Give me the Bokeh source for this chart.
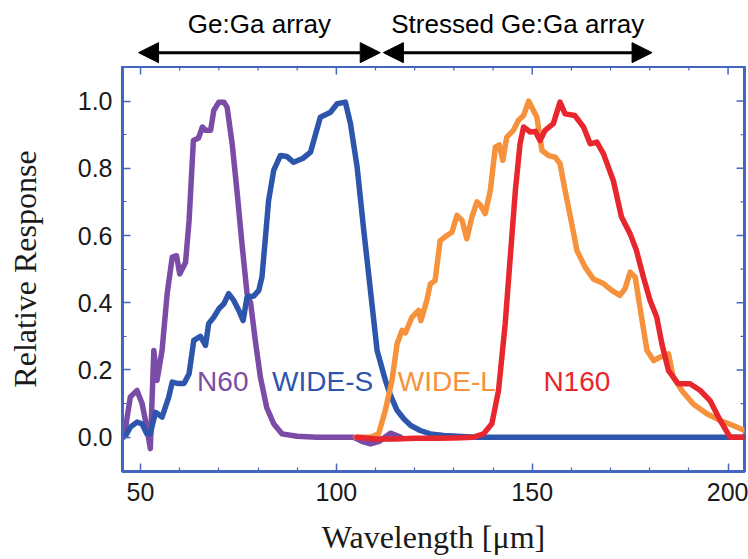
from bokeh.plotting import figure
from bokeh.layouts import column
from bokeh.models import (Range1d, FixedTicker, PrintfTickFormatter,
                          Label, Arrow, NormalHead, ColumnDataSource)
from bokeh.embed import file_html
from bokeh.resources import INLINE

# ---- data ----
n60_x = [45.6, 46.2, 47.4, 49.1, 50.4, 51.6, 52.5, 53.4, 54.2, 55.5, 56.8, 58.1, 59.2, 60.0,
         61.5, 62.4, 63.5, 64.8, 65.8, 66.6, 67.9, 68.7, 70.0, 71.3, 72.1, 73.4, 74.7, 75.9,
         77.2, 78.1, 79.3, 80.6, 82.2, 84.0, 86.1, 90.0, 95.0, 100.0, 104.4, 106.5, 108.7,
         111.0, 113.8, 116.5]
n60_y = [0.00, 0.03, 0.12, 0.139, 0.10, 0.03, -0.034, 0.258, 0.169, 0.258, 0.427, 0.536, 0.54,
         0.486, 0.52, 0.645, 0.883, 0.89, 0.923, 0.913, 0.913, 0.972, 0.997, 0.997, 0.982,
         0.873, 0.724, 0.576, 0.427, 0.40, 0.288, 0.179, 0.089, 0.04, 0.01, 0.003, 0.0, 0.0,
         0.0, -0.012, -0.02, -0.012, 0.012, 0.0]

wides_x = [45.4, 46.2, 47.4, 49.1, 50.4, 51.6, 52.5, 53.8, 55.5, 57.2, 58.1, 59.4, 61.1, 62.4,
           63.6, 65.3, 66.6, 67.4, 68.7, 70.0, 71.3, 72.5, 73.8, 75.1, 76.2, 77.2, 78.9, 80.2,
           81.0, 81.9, 82.7, 84.0, 85.7, 87.4, 89.1, 91.5, 93.4, 95.9, 98.5, 100.2, 102.3,
           103.6, 105.3, 107.0, 108.7, 110.4, 112.5, 113.8, 115.5, 117.2, 119.0, 121.4, 124.0,
           127.4, 132.0, 136.0, 150.0, 175.0, 204.2]
wides_y = [0.0, 0.005, 0.03, 0.045, 0.04, 0.01, 0.01, 0.074, 0.06, 0.119, 0.164, 0.16, 0.16,
           0.189, 0.288, 0.30, 0.273, 0.338, 0.357, 0.382, 0.397, 0.427, 0.407, 0.377, 0.347,
           0.417, 0.42, 0.437, 0.476, 0.595, 0.704, 0.794, 0.838, 0.835, 0.818, 0.83, 0.848,
           0.952, 0.967, 0.992, 0.997, 0.933, 0.804, 0.615, 0.437, 0.258, 0.17, 0.125, 0.08,
           0.055, 0.035, 0.02, 0.01, 0.005, 0.002, 0.0, 0.0, 0.0, 0.0]

widel_x = [105.0, 108.7, 110.8, 112.5, 114.2, 115.5, 116.8, 117.6, 119.3, 121.0, 121.6, 123.1,
           124.0, 125.2, 126.5, 128.2, 129.5, 130.8, 132.1, 133.3, 134.6, 135.9, 136.8, 138.0,
           139.3, 140.6, 141.6, 142.5, 143.5, 145.2, 146.5, 147.8, 149.1, 151.2, 152.5, 154.2,
           155.9, 157.1, 158.4, 160.1, 161.4, 163.5, 165.6, 168.2, 170.3, 172.4, 173.7, 175.0,
           176.3, 177.5, 179.3, 181.0, 182.6, 184.8, 186.0, 188.2, 191.1, 194.6, 197.9, 201.3,
           204.2]
widel_y = [0.0, 0.0, 0.01, 0.08, 0.169, 0.278, 0.318, 0.31, 0.357, 0.377, 0.347, 0.407, 0.456,
           0.466, 0.585, 0.60, 0.61, 0.66, 0.645, 0.59, 0.655, 0.70, 0.69, 0.665, 0.734, 0.863,
           0.87, 0.824, 0.893, 0.913, 0.943, 0.957, 1.0, 0.952, 0.853, 0.838, 0.833, 0.814,
           0.734, 0.635, 0.556, 0.506, 0.471, 0.457, 0.437, 0.422, 0.442, 0.491, 0.476, 0.387,
           0.258, 0.228, 0.238, 0.248, 0.179, 0.139, 0.099, 0.07, 0.05, 0.035, 0.02]

n160_x = [105.2, 110.0, 115.0, 120.0, 125.0, 130.0, 135.0, 137.6, 139.7, 141.4, 143.1, 144.4,
          145.7, 146.9, 147.8, 149.5, 150.8, 152.0, 153.3, 155.4, 157.1, 158.4, 160.9, 163.1,
          164.8, 166.5, 168.2, 170.7, 172.8, 175.0, 176.6, 178.4, 180.1, 181.8, 183.1, 184.8,
          187.3, 190.3, 192.9, 195.4, 198.0, 200.5, 204.2]
n160_y = [0.0, -0.005, -0.005, -0.003, -0.003, -0.002, 0.0, 0.01, 0.04, 0.139, 0.337, 0.536,
          0.734, 0.873, 0.923, 0.908, 0.91, 0.883, 0.913, 0.933, 0.997, 0.962, 0.957, 0.923,
          0.873, 0.878, 0.843, 0.764, 0.655, 0.605, 0.556, 0.476, 0.407, 0.357, 0.278, 0.198,
          0.159, 0.159, 0.139, 0.109, 0.05, 0.0, 0.0]

series_names = ["N60", "WIDE-S", "WIDE-L", "N160"]
series_colors = ["#7b4ca6", "#2c55ab", "#f6923b", "#e8262d"]
label_x = [71.0, 96.5, 128.2, 161.4]
label_y = [0.166, 0.166, 0.166, 0.166]

region_names = ["Ge:Ga array", "Stressed Ge:Ga array"]
region_start = [49.5, 112.0]
region_end = [111.2, 180.6]

x_major = [50, 100, 150, 200]
x_minor = [60, 70, 80, 90, 110, 120, 130, 140, 160, 170, 180, 190]
y_major = [0.0, 0.2, 0.4, 0.6, 0.8, 1.0]
y_minor = [-0.1, 0.1, 0.3, 0.5, 0.7, 0.9, 1.1]

X0, X1 = 45.4, 204.2
Y0, Y1 = -0.102, 1.103

AXC = "#4466bf"
W = 748
FL, FR = 122, 4  # frame borders (px)

# ---------------- main chart ----------------
p = figure(width=W, height=493, x_range=Range1d(X0, X1), y_range=Range1d(Y0, Y1),
           output_backend="svg", toolbar_location=None,
           min_border_left=FL, min_border_right=FR, min_border_top=0, min_border_bottom=88)
p.grid.visible = False
p.outline_line_color = AXC
p.outline_line_width = 3
p.background_fill_color = "white"
p.border_fill_color = "white"

xt = FixedTicker(ticks=x_major, minor_ticks=x_minor)
yt = FixedTicker(ticks=y_major, minor_ticks=y_minor)


def style(ax):
    ax.axis_line_color = AXC
    ax.axis_line_width = 3
    ax.major_tick_line_color = AXC
    ax.minor_tick_line_color = AXC
    ax.major_tick_line_width = 1.5
    ax.minor_tick_line_width = 1.2
    ax.major_tick_in = 8
    ax.major_tick_out = 0
    ax.minor_tick_in = 4
    ax.minor_tick_out = 0
    ax.major_label_text_font = "Liberation Sans"
    ax.major_label_text_font_size = "25px"
    ax.major_label_text_color = "#1a1a1a"
    ax.axis_label_text_font = "Liberation Serif"
    ax.axis_label_text_font_style = "normal"
    ax.axis_label_text_color = "#1a1a1a"


xa = p.xaxis[0]
xa.ticker = xt
xa.formatter = PrintfTickFormatter(format="%d")
xa.axis_label = "Wavelength [μm]"
style(xa)
xa.axis_label_text_font_size = "32px"
xa.major_label_standoff = 11
xa.axis_label_standoff = 15

ya = p.yaxis[0]
ya.ticker = yt
ya.formatter = PrintfTickFormatter(format="%.1f")
ya.axis_label = "Relative Response"
style(ya)
ya.axis_label_text_font_size = "32px"
ya.major_label_standoff = 10
ya.axis_label_standoff = 32

# mirror ticks on the top and right edges (lengths in data units ~ 8px / 4px)
tx_major, tx_minor = 0.024 * (Y1 - Y0) / 1.205, 0.012 * (Y1 - Y0) / 1.205
ty_major, ty_minor = 2.04 * (X1 - X0) / 158.8, 1.02 * (X1 - X0) / 158.8
p.segment(x0=x_major, y0=[Y1] * len(x_major), x1=x_major, y1=[Y1 - tx_major] * len(x_major),
          line_color=AXC, line_width=1.5)
p.segment(x0=x_minor, y0=[Y1] * len(x_minor), x1=x_minor, y1=[Y1 - tx_minor] * len(x_minor),
          line_color=AXC, line_width=1.2)
p.segment(x0=[X1] * len(y_major), y0=y_major, x1=[X1 - ty_major] * len(y_major), y1=y_major,
          line_color=AXC, line_width=1.5)
p.segment(x0=[X1] * len(y_minor), y0=y_minor, x1=[X1 - ty_minor] * len(y_minor), y1=y_minor,
          line_color=AXC, line_width=1.2)

xs = [n60_x, wides_x, widel_x, n160_x]
ys = [n60_y, wides_y, widel_y, n160_y]
for xv, yv, c in zip(xs, ys, series_colors):
    src = ColumnDataSource(dict(x=xv, y=yv))
    p.line("x", "y", source=src, line_color=c, line_width=5.5, line_join="round", line_cap="round")

for name, lx, ly, c in zip(series_names, label_x, label_y, series_colors):
    p.add_layout(Label(x=lx, y=ly, text=name, text_color=c, text_font="Liberation Sans",
                       text_font_size="28px", text_align="center", text_baseline="middle"))

# ---------------- header with the two range arrows ----------------
h = figure(width=W, height=66, x_range=p.x_range, y_range=Range1d(0, 1),
           output_backend="svg", toolbar_location=None,
           x_axis_location=None, y_axis_location=None,
           min_border_left=FL, min_border_right=FR, min_border_top=0, min_border_bottom=0)
h.grid.visible = False
h.outline_line_color = None
h.background_fill_color = "white"
h.border_fill_color = "white"

arrow_y = 0.21
text_y = 0.64
for name, s, e in zip(region_names, region_start, region_end):
    h.add_layout(Arrow(x_start=s, y_start=arrow_y, x_end=e, y_end=arrow_y,
                       start=NormalHead(size=20, fill_color="black", line_color="black"),
                       end=NormalHead(size=20, fill_color="black", line_color="black"),
                       line_color="black", line_width=3))
    h.add_layout(Label(x=(s + e) / 2, y=text_y, text=name, text_color="black",
                       text_font="Liberation Sans", text_font_size="26px",
                       text_align="center", text_baseline="alphabetic"))

layout = column(h, p, spacing=0)
open("out.html", "w").write(file_html(layout, INLINE))
